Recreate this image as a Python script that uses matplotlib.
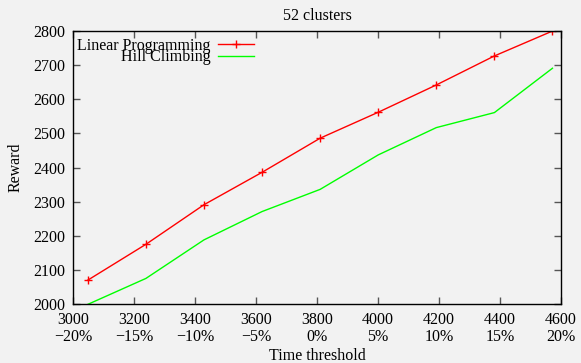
import matplotlib
matplotlib.use("Agg")
import matplotlib.pyplot as plt

# time thresholds (x) and rewards for the two methods
thresholds = [3048, 3238.5, 3429, 3619.5, 3810, 4000.5, 4191, 4381.5, 4572]
lp_reward = [2070, 2175, 2291, 2386, 2486, 2562, 2642, 2727, 2800]
hc_reward = [1999, 2075, 2188, 2271, 2336, 2437, 2517, 2561, 2691]

xticks = [3000, 3200, 3400, 3600, 3800, 4000, 4200, 4400, 4600]
xtick_pct = ["\u221220%", "\u221215%", "\u221210%", "\u22125%", "0%", "5%", "10%", "15%", "20%"]
yticks = [2000, 2100, 2200, 2300, 2400, 2500, 2600, 2700, 2800]

plt.rcParams['font.family'] = ['Liberation Serif', 'DejaVu Serif']
plt.rcParams['font.size'] = 11.5

bg = "#f2f2f2"
fig = plt.figure(figsize=(5.81, 3.63), dpi=100, facecolor=bg)
ax = fig.add_axes([0.126, 0.1625, 0.8396, 0.752], facecolor=bg)

ax.plot(thresholds, lp_reward, color="#ff0000", lw=1.0, marker="+",
        markersize=6, markeredgewidth=1.0, label="Linear Programming")
ax.plot(thresholds, hc_reward, color="#00ff00", lw=1.0, label="Hill Climbing")

ax.set_xlim(3000, 4600)
ax.set_ylim(2000, 2800)
ax.set_xticks(xticks)
ax.set_xticklabels([f"{t}\n{p}" for t, p in zip(xticks, xtick_pct)])
for lbl in ax.get_xticklabels():
    lbl.set_linespacing(1.05)
ax.set_yticks(yticks)

ax.tick_params(direction="in", length=5, width=1, color="#555555",
               top=True, right=True, pad=6)
for s in ax.spines.values():
    s.set_linewidth(1.0)
    s.set_color("black")

ax.set_title("52 clusters", fontsize=11.5, pad=8)
ax.set_xlabel("Time threshold", labelpad=2)
ax.set_ylabel("Reward", labelpad=7)

# entries overlap slightly, as in the original
ax.legend(loc="upper left", bbox_to_anchor=(0.0, 0.99), frameon=False,
          markerfirst=False, handlelength=2.25, handletextpad=0.45,
          labelspacing=-0.28, borderpad=0.25, borderaxespad=0.0)

fig.savefig("out.png", dpi=100, facecolor=bg)
